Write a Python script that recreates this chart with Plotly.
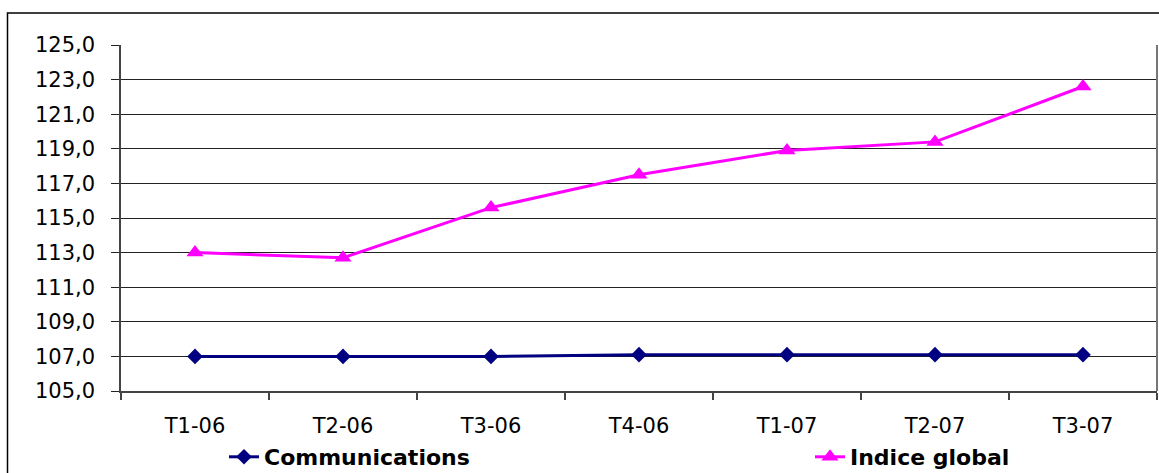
import plotly.graph_objects as go

categories = ["T1-06", "T2-06", "T3-06", "T4-06", "T1-07", "T2-07", "T3-07"]
communications = [107.0, 107.0, 107.0, 107.1, 107.1, 107.1, 107.1]
indice_global = [113.0, 112.7, 115.6, 117.5, 118.9, 119.4, 122.6]
y_ticks = [105, 107, 109, 111, 113, 115, 117, 119, 121, 123, 125]

W, H = 1159, 473
L, T = 121, 45
PR, PB = 1157, 391
R, B = W - PR, H - PB
pw, ph = PR - L, PB - T


def px_x(sx):
    return (sx - L) / pw


def px_y(sy):
    return (PB - sy) / ph


fig = go.Figure()
fig.add_trace(go.Scatter(
    x=categories, y=communications, name="Communications", mode="lines+markers",
    line=dict(color="#000080", width=3),
    marker=dict(symbol="diamond", size=12, color="#000080"),
    legend="legend",
))
fig.add_trace(go.Scatter(
    x=categories, y=indice_global, name="Indice global", mode="lines+markers",
    line=dict(color="#FF00FF", width=3),
    marker=dict(symbol="triangle-up", size=15, color="#FF00FF"),
    legend="legend2",
))

tickfont = dict(family="DejaVu Sans, Liberation Sans, Arial", size=21, color="#000")
legfont = dict(family="DejaVu Sans, Liberation Sans, Arial", size=22, color="#000", weight="bold")

fig.update_layout(
    width=W, height=H,
    margin=dict(l=L, r=R, t=T, b=B, autoexpand=False),
    paper_bgcolor="white", plot_bgcolor="white",
    separators=",.",
    xaxis=dict(
        type="category", range=[-0.5, 6.5], tickson="boundaries",
        ticks="outside", ticklen=7, tickcolor="#444", tickwidth=1.5,
        showline=True, linecolor="#444", linewidth=1.5,
        showgrid=False, tickfont=tickfont, ticklabelstandoff=15,
        fixedrange=True,
    ),
    yaxis=dict(
        range=[105, 125], tickvals=y_ticks, tickformat=".1f",
        ticks="outside", ticklen=8, tickcolor="#222", tickwidth=1,
        showline=True, linecolor="#444", linewidth=1.5,
        showgrid=True, gridcolor="#222", gridwidth=1,
        tickfont=tickfont, ticklabelstandoff=12, zeroline=False,
        fixedrange=True,
    ),
    legend=dict(
        orientation="h", x=px_x(224), y=px_y(457),
        xanchor="left", yanchor="middle", font=legfont,
        bgcolor="rgba(0,0,0,0)", itemwidth=30,
    ),
    legend2=dict(
        orientation="h", x=px_x(810), y=px_y(457),
        xanchor="left", yanchor="middle", font=legfont,
        bgcolor="rgba(0,0,0,0)", itemwidth=30,
    ),
    showlegend=True,
)

# outer chart border (runs past the right/bottom edges as in the reference)
fig.add_shape(
    type="rect", xref="paper", yref="paper",
    x0=px_x(7.5), x1=px_x(1220),
    y0=px_y(520), y1=px_y(13),
    line=dict(color="#000", width=1.5), fillcolor="rgba(0,0,0,0)", layer="below",
)
# right edge of plot area
fig.add_shape(
    type="line", xref="paper", yref="paper", x0=1, x1=1, y0=0, y1=1,
    line=dict(color="#777", width=2),
)

fig.write_html(
    "out.html",
    config={"displayModeBar": False},
    post_script="document.body.style.margin='0';document.documentElement.style.overflow='hidden';",
)
